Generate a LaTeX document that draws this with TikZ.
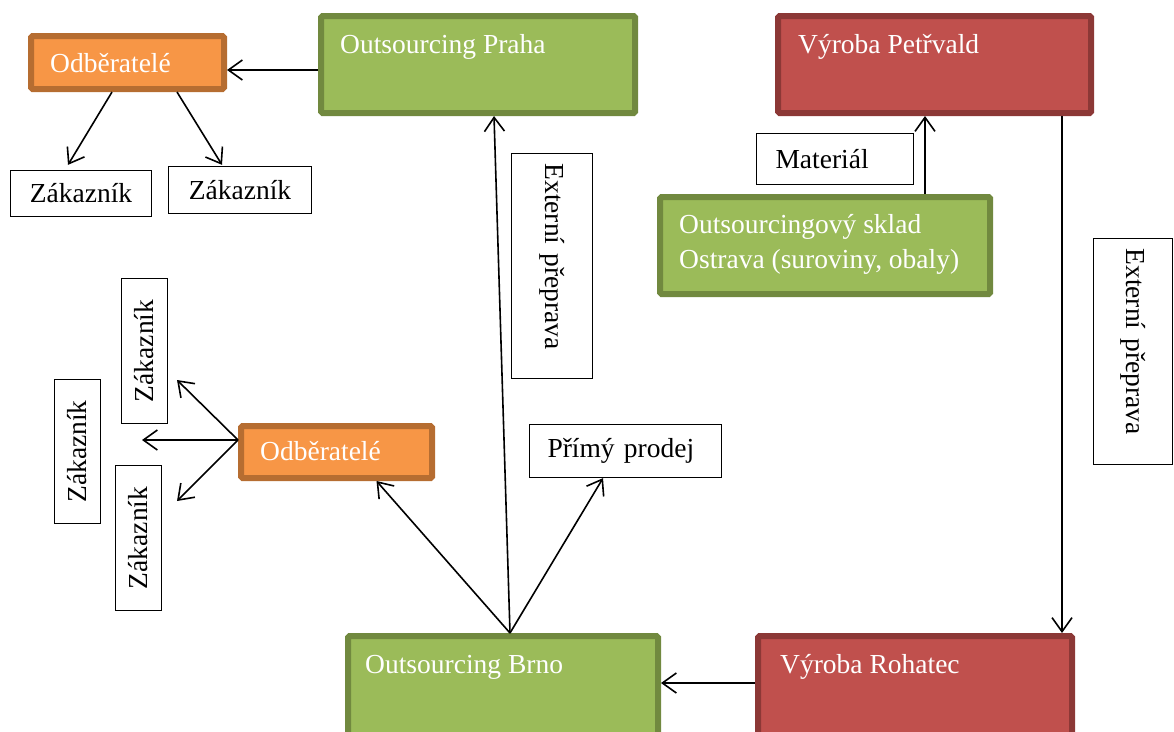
\documentclass[tikz,border=0pt]{standalone}
\usepackage{fontspec}
\setmainfont{Liberation Serif}
\newfontfamily\diagfont{Liberation Serif}
\usetikzlibrary{arrows.meta,calc}
\definecolor{grnfill}{HTML}{9BBB59}
\definecolor{grnedge}{HTML}{71893F}
\definecolor{redfill}{HTML}{C0504D}
\definecolor{rededge}{HTML}{8C3836}
\definecolor{orgfill}{HTML}{F79646}
\definecolor{orgedge}{HTML}{B66D31}
\tikzset{
  txt/.style={font=\diagfont\fontsize{27.5}{35}\selectfont},
  block/.style={draw, line width=6pt, rounded corners=1.5pt, anchor=north west, inner sep=0pt},
  grnbox/.style={block, fill=grnfill, draw=grnedge},
  redbox/.style={block, fill=redfill, draw=rededge},
  orgbox/.style={block, fill=orgfill, draw=orgedge},
  lbl/.style={txt, text=white, anchor=base west, inner sep=0pt, align=left},
  thinbox/.style={txt, draw, line width=1.3pt, fill=white, inner sep=0pt},
  conn/.style={line width=1.6pt, -{Straight Barb[length=14pt,width=20pt]}},
}
\begin{document}
\begin{tikzpicture}[x=1pt, y=-1pt]
  \useasboundingbox (0,0) rectangle (1174,731);
  \clip (0,0) rectangle (1174,731);

  % coloured blocks (placed by their outer top-left corner)
  \node[orgbox, minimum width=193, minimum height=53] (odb1) at (28,33) {};
  \node[grnbox, minimum width=314, minimum height=97] (praha) at (318,13) {};
  \node[redbox, minimum width=313, minimum height=97] (petr) at (775,13) {};
  \node[grnbox, minimum width=330, minimum height=97] (sklad) at (657,194) {};
  \node[orgbox, minimum width=191, minimum height=52] (odb2) at (238,423) {};
  \node[grnbox, minimum width=310, minimum height=140] (brno) at (345,633) {};
  \node[redbox, minimum width=314, minimum height=140] (roh) at (755,633) {};

  % block captions (anchored on the baseline of the last line)
  \node[lbl] (odb1t) at ($(odb1.north west)+(22,39)$) {Odběratelé};
  \node[lbl] (prahat) at ($(praha.north west)+(22,40)$) {Outsourcing Praha};
  \node[lbl] (petrt) at ($(petr.north west)+(23,40)$) {Výroba Petřvald};
  \node[lbl] (skladt) at ($(sklad.north west)+(22,74)$) {Outsourcingový sklad\\Ostrava (suroviny, obaly)};
  \node[lbl] (odb2t) at ($(odb2.north west)+(22,37)$) {Odběratelé};
  \node[lbl] (brnot) at ($(brno.north west)+(20,40)$) {Outsourcing Brno};
  \node[lbl] (roht) at ($(roh.north west)+(25,40)$) {Výroba Rohatec};

  % plain text boxes
  \node[thinbox, minimum width=141, minimum height=46] (z1) at (81,193.5) {Zákazník};
  \node[thinbox, minimum width=143, minimum height=47] (z2) at (240,190) {Zákazník};
  \node[thinbox, minimum height=51, text width=119, inner xsep=19, align=left] (mat) at (835,159) {Materiál};
  \node[thinbox, minimum height=53, text width=156, inner xsep=18, align=left] (prodej) at (625.5,451) {Přímý prodej};
  \node[thinbox, rotate=-90, minimum height=81, text width=205, inner xsep=10, align=left] (ext1) at (552,266) {Externí přeprava};
  \node[thinbox, rotate=-90, minimum height=79, text width=206, inner xsep=10, align=left] (ext2) at (1133,351.5) {Externí přeprava};
  \node[thinbox, rotate=90, minimum width=145, minimum height=46] (zl1) at (144.5,351) {Zákazník};
  \node[thinbox, rotate=90, minimum width=144, minimum height=46] (zl2) at (77.5,451.5) {Zákazník};
  \node[thinbox, rotate=90, minimum width=145, minimum height=46] (zl3) at (138.5,538) {Zákazník};

  % connectors
  \draw[conn] ([yshift=-5.5pt]praha.west) -- ([yshift=-5.5pt]praha.west -| odb1.east);
  \draw[conn] ($(odb1.south)+(-15.5,0)$) -- ($(z1.north)+(-13,-5)$);
  \draw[conn] ($(odb1.south)+(49.5,0)$) -- ($(z2.north)+(-18,-1)$);

  \coordinate (m1) at ($(sklad.north)+(100,0)$);
  \draw[conn] (m1) -- (m1 |- petr.south);
  \coordinate (m2) at ($(petr.south)+(127.5,0)$);
  \draw[conn] (m2) -- (m2 |- roh.north);
  \coordinate (m3) at (roh.north west |- 0,683);
  \draw[conn] (m3) -- (m3 -| brno.east);

  \coordinate (bt) at (510,633);
  \draw[conn] (bt) -- ($(praha.south)+(16,0)$);
  \draw[conn] (bt) -- ($(odb2.south)+(40,0)$);
  \draw[conn] (bt) -- ($(prodej.south)+(-22.5,0)$);

  \coordinate (o2) at ($(odb2.west)+(0,-12)$);
  \coordinate (t1) at (177,380);
  \coordinate (t2) at (142,440);
  \coordinate (t3) at (177,501);
  \draw[conn] (o2) -- (t1);
  \draw[conn] (o2) -- (t2);
  \draw[conn] (o2) -- (t3);
\end{tikzpicture}
\end{document}
